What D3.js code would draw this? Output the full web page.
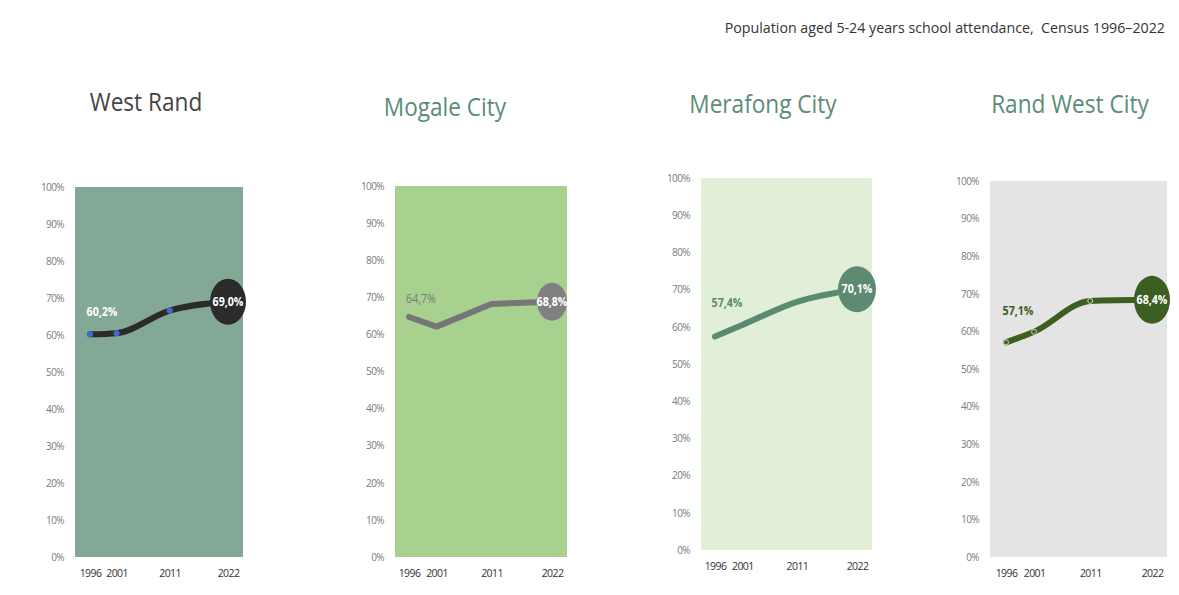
<!DOCTYPE html>
<html>
<head>
<meta charset="utf-8">
<script src="https://cdn.jsdelivr.net/npm/d3@7"></script>
<style>
  body { margin: 0; background: #fff; }
  svg text { font-family: "Open Sans", "Noto Sans", sans-serif; white-space: pre; }
</style>
</head>
<body>
<div id="chart"></div>
<script>
// census years and school attendance share (%) per municipality
var years = [1996, 2001, 2011, 2022]
var regions = ["West Rand", "Mogale City", "Merafong City", "Rand West City"]
var westRand = [60.2, 60.5, 66.6, 69.0]
var mogaleCity = [64.7, 62.1, 68.2, 68.8]
var merafongCity = [57.4, 60.5, 66.7, 70.1]
var randWestCity = [57.1, 59.9, 68.1, 68.4]
var yTicks = [0, 10, 20, 30, 40, 50, 60, 70, 80, 90, 100]
var subtitle = "Population aged 5-24 years school attendance,  Census 1996\u20132022"

var series = [westRand, mogaleCity, merafongCity, randWestCity]

// layout + look of each small panel
var panels = [
	{ x0: 75, x1: 243, top: 187, bottom: 557, tickX: 64, bg: "#84a896", line: "#2b2b2b", dot: "#3b6fd4",
	  bubble: "#2b2b2b", rx: 18, ry: 23, firstColor: "#ffffff", curve: d3.curveMonotoneX, labelDy: -18,
	  titleX: 146, titleY: 111, titleColor: "#444444", xPad: [15, 15] },
	{ x0: 395, x1: 567, top: 186, bottom: 557, tickX: 384, bg: "#a8d08e", line: "#767676", dot: null,
	  bubble: "#808080", rx: 15, ry: 19, firstColor: "#7a7a7a", curve: d3.curveLinear, labelDy: -14,
	  titleX: 445, titleY: 116, titleColor: "#5b8c76", xPad: [14, 15] },
	{ x0: 701, x1: 872, top: 178, bottom: 550, tickX: 690, bg: "#e1efd9", line: "#5b8a70", dot: null,
	  bubble: "#5e8a72", rx: 19, ry: 23, firstColor: "#5e8a72", curve: d3.curveMonotoneX, labelDy: -29,
	  titleX: 763, titleY: 113, titleColor: "#5b8c76", xPad: [14, 15] },
	{ x0: 990, x1: 1167, top: 181, bottom: 557, tickX: 979, bg: "#e4e4e4", line: "#3d5e22", dot: "hollow",
	  bubble: "#3d5e22", rx: 18, ry: 24, firstColor: "#3d5e22", curve: d3.curveMonotoneX, labelDy: -27,
	  titleX: 1070, titleY: 113, titleColor: "#5b8c76", xPad: [16, 15] }
]

var svg = d3.select("#chart")
	.append("svg")
	.attr("width", 1179)
	.attr("height", 595)

// squeeze text horizontally, the source uses a narrow face
function narrow(sel, x, y, sx) {
	sel.attr("transform", "translate(" + x + "," + y + ") scale(" + sx + ",1)")
}

svg.append("text")
	.call(narrow, 1165, 33, 0.95)
	.attr("text-anchor", "end")
	.style("font-size", "15px")
	.style("fill", "#333")
	.text(subtitle)

var fmt = function(v) { return v.toFixed(1).replace(".", ",") + "%" }

panels.forEach(function(p, i) {
	var values = series[i]
	var pts = years.map(function(yr, j) { return { year: yr, value: values[j] } })

	var x = d3.scaleLinear()
		.domain([years[0], years[years.length - 1]])
		.range([p.x0 + p.xPad[0], p.x1 - p.xPad[1]])
	var y = d3.scaleLinear()
		.domain([0, 100])
		.range([p.bottom, p.top])

	var g = svg.append("g")

	// title
	svg.append("text")
		.call(narrow, p.titleX, p.titleY, 0.87)
		.attr("text-anchor", "middle")
		.style("font-size", "26px")
		.style("fill", p.titleColor)
		.text(regions[i])

	g.append("rect")
		.attr("x", p.x0)
		.attr("y", p.top)
		.attr("width", p.x1 - p.x0)
		.attr("height", p.bottom - p.top)
		.style("fill", p.bg)

	// y axis labels
	var yAxis = d3.axisLeft(y)
		.tickValues(yTicks)
		.tickSize(0)
		.tickFormat(function(d) { return d + "%" })
	g.append("g")
		.attr("transform", "translate(" + p.tickX + ",0)")
		.call(yAxis)
		.call(function(a) { a.select(".domain").remove() })
		.selectAll("text")
		.attr("x", 0)
		.style("font-size", "10px")
		.style("fill", "#7a7a7a")
		.style("font-family", "\"Open Sans\", sans-serif")
		.style("letter-spacing", "-0.6px")

	// x axis labels
	var xAxis = d3.axisBottom(x)
		.tickValues(years)
		.tickSize(0)
		.tickFormat(d3.format("d"))
	g.append("g")
		.attr("transform", "translate(0," + (p.bottom + 10) + ")")
		.call(xAxis)
		.call(function(a) { a.select(".domain").remove() })
		.selectAll("text")
		.style("font-size", "10.5px")
		.style("fill", "#333")
		.style("font-family", "\"Open Sans\", sans-serif")
		.style("letter-spacing", "-0.6px")

	var line = d3.line()
		.x(function(d) { return x(d.year) })
		.y(function(d) { return y(d.value) })
		.curve(p.curve)

	g.append("path")
		.datum(pts)
		.attr("d", line)
		.style("fill", "none")
		.style("stroke", p.line)
		.style("stroke-width", 6)
		.style("stroke-linecap", "round")
		.style("stroke-linejoin", "round")

	if (p.dot) {
		g.selectAll(".dot")
			.data(pts.slice(0, 3))
			.enter()
			.append("circle")
			.attr("cx", function(d) { return x(d.year) })
			.attr("cy", function(d) { return y(d.value) })
			.attr("r", p.dot == "hollow" ? 2.5 : 3)
			.style("fill", p.dot == "hollow" ? p.line : p.dot)
			.style("stroke", p.dot == "hollow" ? "#c9d6bf" : "none")
			.style("stroke-width", 1)
	}

	var last = pts[pts.length - 1]
	g.append("ellipse")
		.attr("cx", x(last.year))
		.attr("cy", y(last.value))
		.attr("rx", p.rx)
		.attr("ry", p.ry)
		.style("fill", p.bubble)

	g.append("text")
		.call(narrow, x(last.year), y(last.value) + 4, 0.82)
		.attr("text-anchor", "middle")
		.style("font-size", "13px")
		.style("font-weight", "bold")
		.style("fill", "#fff")
		.text(fmt(last.value))

	var first = pts[0]
	g.append("text")
		.call(narrow, x(first.year) + 12, y(first.value) + p.labelDy, 0.82)
		.attr("text-anchor", "middle")
		.style("font-size", "13px")
		.style("font-weight", i == 1 ? "normal" : "bold")
		.style("fill", p.firstColor)
		.text(fmt(first.value))
})
</script>
</body>
</html>
